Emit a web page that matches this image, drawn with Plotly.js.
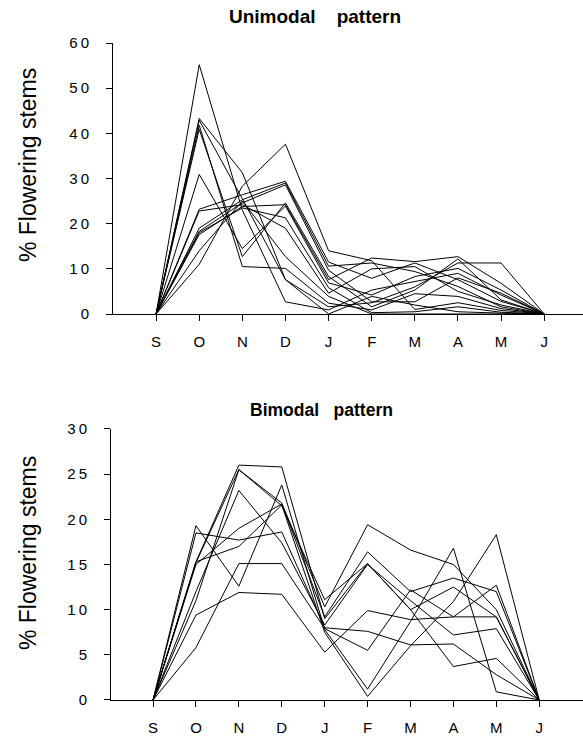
<!DOCTYPE html>
<html>
<head>
<meta charset="utf-8">
<script src="https://cdn.plot.ly/plotly-3.0.1.min.js"></script>
<style>
html,body{margin:0;padding:0;background:#fff;}
#chart{width:583px;height:738px;}
</style>
</head>
<body>
<div id="chart"></div>
<script>
// Month categories (September to June)
const months = ["S", "O", "N", "D", "J", "F", "M", "A", "M", "J"];
const monthIndex = [0, 1, 2, 3, 4, 5, 6, 7, 8, 9];

// Unimodal pattern: % flowering stems per month, one array per stand
const unimodalSeries = [
  [0, 55.2, 23.0, 2.7, 0.9, 5.3, 7.2, 9.0, 4.2, 0],
  [0, 43.3, 31.3, 7.6, 0.0, 3.9, 2.0, 0.5, 0.2, 0],
  [0, 42.9, 25.5, 7.6, 1.6, 2.5, 6.0, 11.3, 11.3, 0],
  [0, 41.8, 10.5, 10.1, 2.4, 0.9, 4.5, 3.9, 1.2, 0],
  [0, 40.9, 12.7, 24.6, 8.3, 1.6, 5.3, 12.2, 3.1, 0],
  [0, 30.9, 14.5, 23.9, 6.9, 4.2, 8.3, 10.1, 5.3, 0],
  [0, 23.2, 26.4, 29.4, 11.5, 7.9, 11.3, 7.6, 2.8, 0],
  [0, 19.0, 25.3, 29.0, 10.6, 11.3, 9.4, 6.1, 1.6, 0],
  [0, 18.3, 24.6, 28.6, 9.7, 2.7, 2.7, 8.0, 4.6, 0],
  [0, 17.6, 23.8, 24.2, 7.6, 12.4, 11.6, 12.7, 6.8, 0],
  [0, 22.8, 24.2, 19.0, 4.6, 10.0, 10.5, 5.0, 2.0, 0],
  [0, 11.0, 28.3, 37.6, 14.0, 11.8, 1.0, 2.5, 0.8, 0],
  [0, 18.0, 23.5, 21.3, 5.8, 0.3, 0.5, 1.6, 0.4, 0],
  [0, 14.0, 25.0, 12.7, 3.9, 0.0, 0.0, 0.0, 0.0, 0]
];

// Bimodal pattern
const bimodalSeries = [
  [0, 15.3, 26.0, 25.8, 9.0, 15.1, 10.0, 3.7, 4.6, 0],
  [0, 15.2, 25.5, 21.8, 10.3, 19.4, 16.6, 15.0, 10.0, 0],
  [0, 12.0, 23.2, 17.4, 8.3, 15.0, 11.0, 7.2, 7.9, 0],
  [0, 19.3, 12.6, 23.8, 7.8, 1.2, 8.7, 16.8, 0.9, 0],
  [0, 18.5, 17.7, 18.6, 8.0, 7.6, 6.1, 6.2, 2.8, 0],
  [0, 15.3, 17.0, 21.6, 7.5, 0.4, 6.0, 10.9, 18.3, 0],
  [0, 5.8, 15.1, 15.1, 7.9, 5.5, 12.2, 9.2, 12.7, 0],
  [0, 9.4, 11.9, 11.7, 5.3, 9.9, 8.9, 9.2, 9.2, 0],
  [0, 15.0, 19.0, 21.7, 9.2, 16.4, 12.0, 13.5, 12.0, 0],
  [0, 11.0, 25.5, 21.5, 11.1, 15.1, 10.0, 12.5, 9.2, 0]
];

// Tick labels
const uniTickVals = [0, 10, 20, 30, 40, 50, 60];
const biTickVals = [0, 5, 10, 15, 20, 25, 30];
const spaced = v => String(v).split("").join("\u2009");

const traces = [];
unimodalSeries.forEach(s => traces.push({
  x: monthIndex, y: s, xaxis: "x", yaxis: "y", type: "scatter", mode: "lines",
  line: {color: "#000", width: 1}, hoverinfo: "skip"
}));
bimodalSeries.forEach(s => traces.push({
  x: monthIndex, y: s, xaxis: "x2", yaxis: "y2", type: "scatter", mode: "lines",
  line: {color: "#000", width: 1}, hoverinfo: "skip"
}));

const font = {family: "Liberation Sans, Arial, sans-serif", color: "#000"};
const axisCommon = {
  showline: true, linecolor: "#000", linewidth: 1, showgrid: false, zeroline: false,
  ticks: "outside", ticklen: 6, tickcolor: "#000", tickwidth: 1,
  tickfont: Object.assign({size: 15}, font)
};

const layout = {
  width: 583, height: 738,
  margin: {l: 111, r: 0, t: 43, b: 38},
  paper_bgcolor: "#fff", plot_bgcolor: "#fff",
  showlegend: false,
  font: font,
  xaxis: Object.assign({}, axisCommon, {
    domain: [0.0042, 1], range: [-1, 9.9], anchor: "y",
    tickvals: monthIndex, ticktext: months, ticklabelstandoff: 8
  }),
  yaxis: Object.assign({}, axisCommon, {
    domain: [0.5875, 1], range: [0, 60], anchor: "x",
    tickvals: uniTickVals, ticktext: uniTickVals.map(spaced), ticklabelstandoff: 14
  }),
  xaxis2: Object.assign({}, axisCommon, {
    domain: [0, 1], range: [-0.98, 10.02], anchor: "y2",
    tickvals: monthIndex, ticktext: months, ticklabelstandoff: 8
  }),
  yaxis2: Object.assign({}, axisCommon, {
    domain: [0, 0.4125], range: [0, 30], anchor: "x2",
    tickvals: biTickVals, ticktext: biTickVals.map(spaced), ticklabelstandoff: 14
  }),
  annotations: [
    {text: "<b>Unimodal    pattern</b>", xref: "paper", yref: "paper", x: 0.432, y: 1.0396,
     xanchor: "center", yanchor: "middle", showarrow: false, font: Object.assign({size: 19}, font)},
    {text: "<b>Bimodal   pattern</b>", xref: "paper", yref: "paper", x: 0.447, y: 0.4414,
     xanchor: "center", yanchor: "middle", showarrow: false, font: Object.assign({size: 17.5}, font)},
    {text: "% Flowering stems", xref: "paper", yref: "paper", x: -0.1758, y: 0.8143,
     xanchor: "center", yanchor: "middle", textangle: -90, showarrow: false, font: Object.assign({size: 23}, font)},
    {text: "% Flowering stems", xref: "paper", yref: "paper", x: -0.1758, y: 0.2237,
     xanchor: "center", yanchor: "middle", textangle: -90, showarrow: false, font: Object.assign({size: 23}, font)}
  ]
};

Plotly.newPlot("chart", traces, layout, {displayModeBar: false, staticPlot: true});
</script>
</body>
</html>
